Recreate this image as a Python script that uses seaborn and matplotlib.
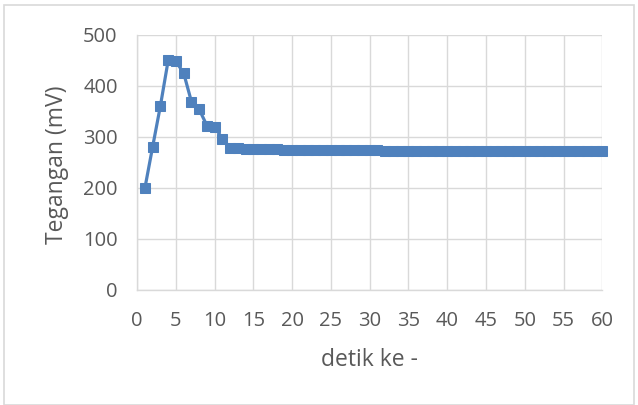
import matplotlib
matplotlib.use("Agg")
import matplotlib.pyplot as plt
import seaborn as sns
import pandas as pd
from matplotlib.patches import Rectangle

# Data
detik = list(range(1, 61))
tegangan = [200, 281, 361, 450, 448, 425, 369, 354, 322, 320,
            296, 279, 278, 277, 277, 276, 276, 276, 275, 275,
            275, 275, 274, 274, 274, 274, 274, 274, 274, 274,
            274, 273, 273, 273, 273, 273, 273, 273, 273, 273,
            272, 272, 272, 272, 272, 272, 273, 273, 273, 273,
            273, 273, 273, 273, 273, 273, 273, 273, 273, 273]
x_ticks = list(range(0, 61, 5))
y_ticks = [0, 100, 200, 300, 400, 500]
x_label = "detik ke -"
y_label = "Tegangan (mV)"

df = pd.DataFrame({"detik": detik, "tegangan": tegangan})

sns.set_style("white")
plt.rcParams["font.family"] = ["Open Sans", "DejaVu Sans"]

fig = plt.figure(figsize=(6.38, 4.05), dpi=100)
ax = fig.add_axes([0.215, 0.284, 0.729, 0.630])

grid_c = "#d9d9d9"
text_c = "#595959"
line_c = "#4f81bd"

sns.lineplot(data=df, x="detik", y="tegangan", ax=ax, color=line_c,
             linewidth=2.3, marker="s", markersize=7.5,
             markeredgecolor=line_c, markerfacecolor=line_c, clip_on=False)

ax.set_xlim(0, 60)
ax.set_ylim(0, 500)
ax.set_xticks(x_ticks)
ax.set_yticks(y_ticks)
ax.grid(True, color=grid_c, linewidth=1.0)
ax.set_axisbelow(True)
for s in ["top", "right"]:
    ax.spines[s].set_visible(False)
for s in ["left", "bottom"]:
    ax.spines[s].set_color(grid_c)
    ax.spines[s].set_linewidth(1.0)
ax.tick_params(axis="both", which="major", length=5, width=1.0, color=grid_c,
               labelcolor=text_c, labelsize=14.5)
ax.tick_params(axis="x", pad=10)
ax.tick_params(axis="y", pad=9)
ax.set_xlabel(x_label, fontsize=16.5, color=text_c, va="center")
ax.set_ylabel(y_label, fontsize=16.5, color=text_c, va="center")
ax.xaxis.set_label_coords(0.500, -0.274)
ax.yaxis.set_label_coords(-0.173, 0.49)

fig.patches.append(Rectangle((0.006, 0.0), 0.988, 0.988, transform=fig.transFigure,
                             fill=False, edgecolor=grid_c, linewidth=1.2))

fig.savefig("out.png", dpi=100)
